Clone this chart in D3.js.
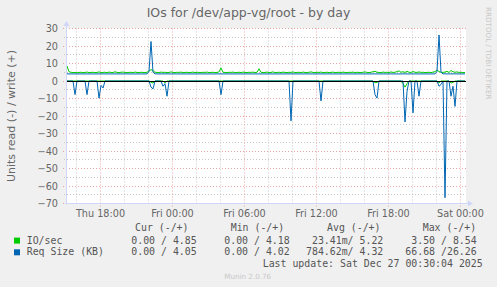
<!DOCTYPE html>
<html>
<head>
<meta charset="utf-8">
<script src="https://cdn.jsdelivr.net/npm/d3@7.9.0/dist/d3.min.js"></script>
<style>
  body { margin: 0; background: #f0f0f0; }
  svg { display: block; }
</style>
</head>
<body>
<svg id="chart" width="497" height="287"></svg>
<script>
// one sample every 10 minutes, Thu 15:15 .. Sat 00:25 (UTC)
const ioWrite = [
  8.54, 5.3, 5.0, 4.8, 4.9, 4.7, 4.9, 5.0, 4.8, 4.9, 5.1, 4.8, 4.9, 5.0, 4.8, 4.9, 5.2, 4.8, 4.9, 5.0,
  4.8, 5.1, 4.9, 4.8, 5.3, 4.9, 4.8, 5.0, 5.1, 4.9, 4.8, 4.9, 5.0, 4.8, 5.1, 4.9, 4.8, 5.0, 4.9, 4.8,
  5.0, 5.8, 6.5, 6.0, 5.0, 4.9, 4.8, 5.1, 4.9, 5.0, 4.8, 4.9, 5.2, 4.9, 4.8, 5.0, 4.9, 5.1, 4.8, 4.9,
  5.0, 4.8, 4.9, 5.1, 4.8, 5.0, 4.9, 4.8, 5.0, 4.9, 5.1, 4.8, 4.9, 5.0, 4.8, 4.9, 5.2, 7.5, 5.0, 4.9,
  4.8, 5.0, 4.9, 5.1, 4.8, 4.9, 5.0, 4.8, 5.1, 4.9, 4.8, 5.0, 4.9, 5.1, 4.8, 5.0, 7.0, 5.0, 4.8, 4.9,
  5.1, 4.8, 4.9, 5.2, 4.8, 4.9, 5.0, 4.8, 5.1, 4.9, 4.8, 5.0, 4.9, 5.2, 4.8, 4.9, 5.0, 4.8, 5.1, 4.9,
  4.8, 5.0, 5.2, 4.9, 4.8, 5.0, 4.9, 5.1, 4.8, 4.9, 5.0, 4.8, 4.9, 5.1, 4.8, 4.9, 5.0, 4.8, 5.1, 4.9,
  4.8, 5.0, 4.9, 5.1, 4.8, 5.0, 4.9, 4.8, 5.0, 5.2, 4.9, 4.8, 5.0, 5.3, 5.6, 5.0, 4.9, 4.8, 5.1, 4.9,
  5.0, 4.8, 5.2, 4.9, 5.0, 5.4, 5.8, 5.0, 5.3, 4.9, 5.5, 5.0, 4.9, 5.4, 5.0, 4.9, 5.2, 4.9, 5.0, 4.8,
  4.9, 5.0, 4.8, 5.1, 5.3, 6.3, 5.4, 5.0, 4.9, 5.1, 5.5, 4.9, 6.0, 5.3, 5.0, 5.2, 4.9, 5.0, 4.8, 4.85
];
const ioRead = [
  0, 0, 0, 0, 0, 0, 0, 0, 0, 0, 0, 0, 0, 0, 0, 0, 0, 0, 0, 0,
  0, 0, 0, 0, 0, 0, 0, 0, 0, 0, 0, 0, 0, 0, 0, 0, 0, 0, 0, 0,
  0, 0, 0.7, 1.2, 0, 0, 0, 0, 0, 1.0, 0, 0, 0, 0, 0, 0, 0, 0, 0, 0,
  0, 0, 0, 0, 0, 0, 0, 0, 0, 0, 0, 0, 0, 0, 0, 0, 0, 0, 0, 0,
  0, 0, 0, 0, 0, 0, 0, 0, 0, 0, 0, 0, 0, 0, 0, 0, 0, 0, 0, 0,
  0, 0, 0, 0, 0, 0, 0, 0, 0, 0, 0, 0, 0, 0, 0, 0, 0, 0, 0, 0,
  0, 0, 0, 0, 0, 0, 0, 0, 0, 0, 0, 0, 0, 0, 0, 0, 0, 0, 0, 0,
  0, 0, 0, 0, 0, 0, 0, 0, 0, 0, 0, 0, 0, 0, 1.0, 0.8, 0, 0, 0, 0,
  0, 0, 0, 0, 0, 0, 0, 0, 1.5, 3.5, 1.5, 0, 0, 0, 0, 0, 0, 0, 0, 0,
  0, 0, 0, 0, 0, 0, 1.0, 0, 0, 0, 0, 0, 1.2, 0.8, 0, 0, 0, 0, 0, 0
];
const reqWrite = [
  4.10, 4.05, 4.04, 4.06, 4.05, 4.03, 4.05, 4.06, 4.04, 4.05, 4.05, 4.04, 4.06, 4.05, 4.03, 4.05, 4.07, 4.05, 4.04, 4.05,
  4.05, 4.06, 4.04, 4.05, 4.05, 4.03, 4.06, 4.05, 4.04, 4.05, 4.06, 4.05, 4.04, 4.05, 4.03, 4.05, 4.06, 4.04, 4.05, 4.05,
  4.04, 5.50, 22.60, 5.00, 4.10, 4.05, 4.04, 4.06, 4.08, 4.05, 4.10, 4.05, 4.04, 4.06, 4.05, 4.03, 4.05, 4.06, 4.04, 4.05,
  4.05, 4.04, 4.06, 4.05, 4.03, 4.05, 4.06, 4.04, 4.05, 4.05, 4.04, 4.06, 4.05, 4.03, 4.05, 4.06, 4.05, 4.08, 4.04, 4.05,
  4.05, 4.06, 4.04, 4.05, 4.05, 4.03, 4.06, 4.05, 4.04, 4.05, 4.06, 4.05, 4.04, 4.05, 4.03, 4.05, 4.06, 4.04, 4.05, 4.05,
  4.04, 4.05, 4.06, 4.05, 4.04, 4.05, 4.03, 4.05, 4.06, 4.04, 4.05, 4.05, 4.08, 4.05, 4.04, 4.06, 4.05, 4.03, 4.05, 4.06,
  4.05, 4.04, 4.06, 4.05, 4.03, 4.05, 4.06, 4.07, 4.05, 4.04, 4.05, 4.06, 4.05, 4.04, 4.05, 4.03, 4.05, 4.06, 4.04, 4.05,
  4.05, 4.04, 4.06, 4.05, 4.03, 4.05, 4.06, 4.04, 4.05, 4.05, 4.04, 4.06, 4.05, 4.03, 4.08, 4.06, 4.05, 4.04, 4.05, 4.05,
  4.04, 4.05, 4.06, 4.05, 4.04, 4.05, 4.03, 4.05, 4.06, 4.08, 4.05, 4.05, 4.04, 4.07, 4.05, 4.04, 4.06, 4.05, 4.04, 4.05,
  4.05, 4.04, 4.06, 4.05, 4.06, 5.50, 26.26, 5.00, 4.08, 4.10, 4.05, 4.06, 4.08, 4.06, 4.10, 4.05, 4.04, 4.06, 4.05, 4.05
];
const reqRead = [
  0, 0, 0, 0, 7.8, 0, 0, 0, 0, 0, 7.8, 0, 0, 0, 0, 0, 9.8, 2.5, 4.0, 0,
  0, 0, 0, 0, 0, 0, 0, 0, 0, 0, 0, 0, 0, 0, 0, 0, 0, 0, 0, 0,
  0, 0, 3.5, 4.5, 0, 0, 0, 0, 3.0, 1.5, 8.7, 0, 0, 0, 0, 0, 0, 0, 0, 0,
  0, 0, 0, 0, 0, 0, 0, 0, 0, 0, 0, 0, 0, 0, 0, 0, 0, 7.8, 0, 0,
  0, 0, 0, 0, 0, 0, 0, 0, 0, 0, 0, 0, 0, 0, 0, 0, 0, 0, 0, 0,
  0, 0, 0, 0, 0, 0, 0, 0, 0, 0, 0, 0, 22.8, 0, 0, 0, 0, 0, 0, 0,
  0, 0, 0, 0, 0, 0, 0, 11.4, 0, 0, 0, 0, 0, 0, 0, 0, 0, 0, 0, 0,
  0, 0, 0, 0, 0, 0, 0, 0, 0, 0, 0, 0, 0, 0, 7.8, 9.8, 0, 0, 0, 0,
  0, 0, 0, 0, 0, 0, 0, 0, 0, 23.4, 6.0, 0, 0, 18.2, 0, 0, 8.7, 0, 0, 0,
  0, 0, 0, 0, 0, 0, 3.0, 2.0, 0, 66.68, 0, 0, 8.7, 3.0, 14.5, 0, 0, 0, 0, 0
];

const yTicks = [30, 20, 10, 0, -10, -20, -30, -40, -50, -60, -70];
const xTickTimes = ['2025-12-25T18:00Z', '2025-12-26T00:00Z', '2025-12-26T06:00Z',
  '2025-12-26T12:00Z', '2025-12-26T18:00Z', '2025-12-27T00:00Z'];

const legendNames = ['IO/sec', 'Req Size (KB)'];
const legendColors = ['#00cc00', '#0066b3'];
const legendHeads = ['Cur (-/+)', 'Min (-/+)', 'Avg (-/+)', 'Max (-/+)'];
const legendCur = ['0.00 / 4.85', '0.00 / 4.05'];
const legendMin = ['0.00 / 4.18', '0.00 / 4.02'];
const legendAvg = ['23.41m/ 5.22', '784.62m/ 4.32'];
const legendMax = ['3.50 / 8.54', '66.68 /26.26'];

const tStart = new Date('2025-12-25T15:10Z');
const tEnd = new Date('2025-12-27T00:30Z');
const stepMs = 10 * 60 * 1000;
const timeAt = (i) => new Date(tStart.getTime() + stepMs / 2 + i * stepMs);

const L = 66, R = 466, T = 28.5, B = 203.5;
const x = d3.scaleUtc().domain([tStart, tEnd]).range([L, R]);
const y = d3.scaleLinear().domain([-70, 30]).range([B, T]);
const py = (v) => Math.floor(y(v)) + 0.5;

const svg = d3.select('#chart');
const sans = 'DejaVu Sans, sans-serif';
const mono = 'DejaVu Sans Mono, monospace';

svg.append('rect').attr('width', 497).attr('height', 287).attr('fill', '#f0f0f0');
svg.append('rect').attr('x', L).attr('y', T).attr('width', R - L).attr('height', B - T).attr('fill', '#fff');

// grid
const minorH = y.ticks(20).filter(v => v % 10 !== 0);
const majorH = y.ticks(10);
const minorV = x.ticks(d3.utcHour.every(2)).filter(d => d.getUTCHours() % 6 !== 0);
const majorV = x.ticks(d3.utcHour.every(6));
const minorCol = '#c8c8c8', majorCol = '#e4a4a4';

const grid = svg.append('g');
grid.selectAll('.hmin').data(minorH).join('line')
  .attr('x1', L - 2).attr('x2', R).attr('y1', py).attr('y2', py)
  .attr('stroke', minorCol).attr('stroke-dasharray', '1,2');
grid.selectAll('.vmin').data(minorV).join('line')
  .attr('x1', d => Math.round(x(d)) + 0.5).attr('x2', d => Math.round(x(d)) + 0.5)
  .attr('y1', T).attr('y2', B + 2)
  .attr('stroke', minorCol).attr('stroke-dasharray', '1,2');
grid.selectAll('.hmaj').data(majorH).join('line')
  .attr('x1', L - 3).attr('x2', R).attr('y1', py).attr('y2', py)
  .attr('stroke', majorCol).attr('stroke-dasharray', '1,2');
grid.selectAll('.vmaj').data(majorV).join('line')
  .attr('x1', d => Math.round(x(d)) + 0.5).attr('x2', d => Math.round(x(d)) + 0.5)
  .attr('y1', T).attr('y2', B + 3)
  .attr('stroke', majorCol).attr('stroke-dasharray', '1,2');

// series
const lineGen = (sign) => d3.line()
  .x((d, i) => x(timeAt(i)))
  .y(d => y(sign * d));

const series = [
  { data: ioWrite, sign: 1, color: legendColors[0] },
  { data: ioRead, sign: -1, color: legendColors[0] },
  { data: reqWrite, sign: 1, color: legendColors[1] },
  { data: reqRead, sign: -1, color: legendColors[1] }
];
series.forEach(s => {
  svg.append('path')
    .attr('d', lineGen(s.sign)(s.data))
    .attr('fill', 'none')
    .attr('stroke', s.color)
    .attr('stroke-width', 1);
});

// zero rule
svg.append('line').attr('x1', L).attr('x2', R).attr('y1', py(0)).attr('y2', py(0))
  .attr('stroke', '#000').attr('stroke-width', 1);

// axes lines and arrows
const axisCol = '#cfd6f8';
svg.append('line').attr('x1', L + 0.5).attr('x2', L + 0.5).attr('y1', B + 1).attr('y2', 25)
  .attr('stroke', axisCol);
svg.append('line').attr('x1', L - 1).attr('x2', 469).attr('y1', B).attr('y2', B)
  .attr('stroke', axisCol);
svg.append('path').attr('d', `M${L - 2.5},26 L${L + 0.5},21 L${L + 3.5},26 Z`).attr('fill', axisCol);
svg.append('path').attr('d', `M468,${B - 3} L473,${B} L468,${B + 3} Z`).attr('fill', axisCol);

// y labels
const yAxis = svg.append('g').attr('transform', `translate(${L - 5},0)`)
  .call(d3.axisLeft(y).tickValues(yTicks).tickSize(0).tickFormat(d3.format('d')));
yAxis.select('.domain').remove();
yAxis.selectAll('text').attr('font-family', sans).attr('font-size', 9.7).attr('fill', '#666');

// x labels
const xAxis = svg.append('g').attr('transform', `translate(0,${B + 4})`)
  .call(d3.axisBottom(x).tickValues(xTickTimes.map(s => new Date(s)))
    .tickSize(0).tickFormat(d3.utcFormat('%a %H:%M')));
xAxis.select('.domain').remove();
xAxis.selectAll('text').attr('font-family', sans).attr('font-size', 9.7).attr('fill', '#666');

// title & unit label
svg.append('text').attr('x', 248.5).attr('y', 17).attr('text-anchor', 'middle')
  .attr('font-family', sans).attr('font-size', 12.5).attr('fill', '#666')
  .text('IOs for /dev/app-vg/root - by day');
svg.append('text').attr('transform', 'translate(14.5,116) rotate(-90)').attr('text-anchor', 'middle')
  .attr('font-family', sans).attr('font-size', 11).attr('fill', '#666')
  .text('Units read (-) / write (+)');
svg.append('text').attr('transform', 'translate(486,7) rotate(90)')
  .attr('font-family', sans).attr('font-size', 7.2).attr('fill', '#c8c8c8')
  .text('RRDTOOL / TOBI OETIKER');

// legend
const lg = svg.append('g').attr('font-family', mono).attr('font-size', 9.9).attr('fill', '#555');
const headX = [135, 230.7, 327, 422.7];
legendHeads.forEach((h, i) => {
  lg.append('text').attr('x', headX[i]).attr('y', 231).text(h);
});
const colEnds = [196.7, 289.7, 383.3, 476.7];
const cols = [legendCur, legendMin, legendAvg, legendMax];
const rowY = [243.6, 255.3];
legendNames.forEach((name, r) => {
  lg.append('rect').attr('x', 14).attr('y', rowY[r] - 6).attr('width', 6).attr('height', 6)
    .attr('fill', legendColors[r]);
  lg.append('text').attr('x', 26.7).attr('y', rowY[r]).text(name);
  cols.forEach((col, c) => {
    lg.append('text').attr('x', colEnds[c]).attr('y', rowY[r]).attr('text-anchor', 'end')
      .style('white-space', 'pre').text(col[r]);
  });
});
lg.append('text').attr('x', 482.7).attr('y', 267).attr('text-anchor', 'end')
  .text('Last update: Sat Dec 27 00:30:04 2025');
svg.append('text').attr('x', 247.7).attr('y', 278.5).attr('text-anchor', 'middle')
  .attr('font-family', sans).attr('font-size', 7.2).attr('fill', '#c8c8c8')
  .text('Munin 2.0.76');
</script>
</body>
</html>
